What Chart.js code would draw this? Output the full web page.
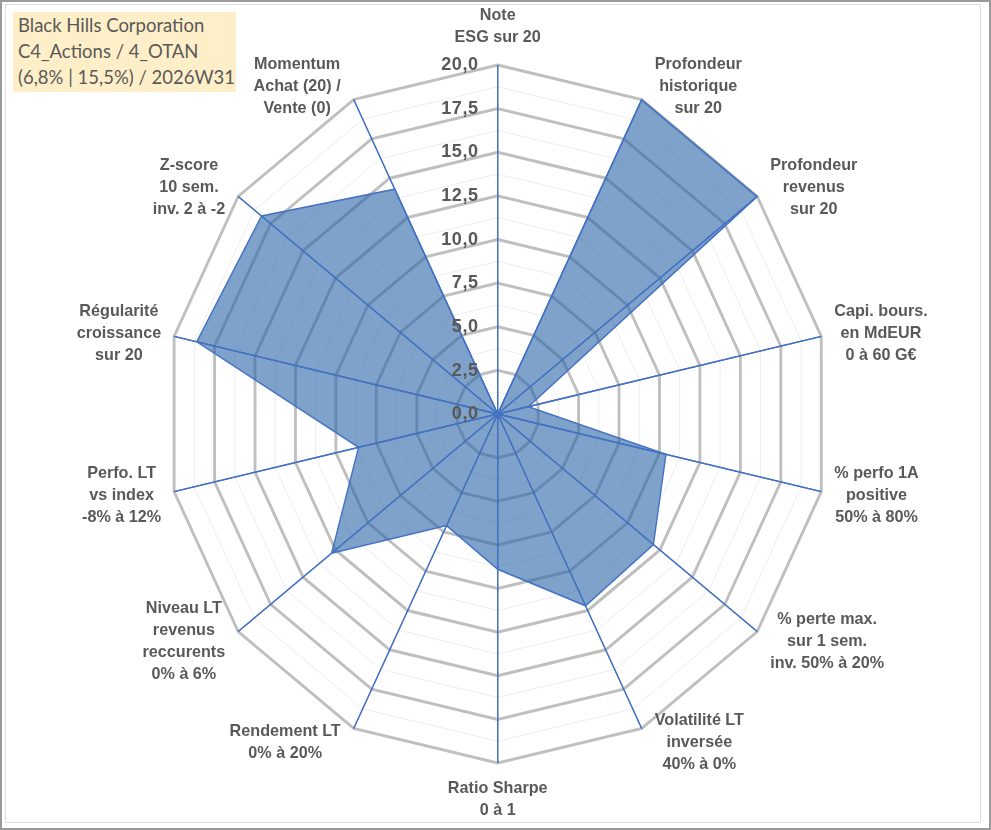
<!DOCTYPE html>
<html lang="fr">
<head>
<meta charset="utf-8">
<title>Black Hills Corporation</title>
<script src="https://cdn.jsdelivr.net/npm/chart.js@4.4.0/dist/chart.umd.min.js"></script>
<style>
  html, body { margin: 0; padding: 0; background: #fff; }
  #wrap { position: relative; width: 991px; height: 830px; overflow: hidden; }
  #chart { position: absolute; left: 0; top: 0; }
  #outer { position: absolute; left: 0; top: 0; width: 991px; height: 830px; box-sizing: border-box; border: 2px solid #9a9a9a; pointer-events: none; }
  #inner { position: absolute; left: 5px; top: 4px; width: 976px; height: 819px; box-sizing: border-box; border: 1px solid #dedede; pointer-events: none; }
  #title { position: absolute; left: 13px; top: 12px; width: 223px; height: 80px; background: #ffefc8;
           font-family: Lato, "Open Sans", sans-serif; font-size: 18.5px; line-height: 26px; color: #595959;
           padding: 0 0 0 5px; box-sizing: border-box; white-space: nowrap; }
</style>
</head>
<body>
<div id="wrap">
  <canvas id="chart" width="991" height="830"></canvas>
  <div id="outer"></div>
  <div id="inner"></div>
  <div id="title"></div>
</div>
<script>
// axes of the radar, clockwise from the top
const categories = [
  ['Note', 'ESG sur 20'],
  ['Profondeur', 'historique', 'sur 20'],
  ['Profondeur', 'revenus', 'sur 20'],
  ['Capi. bours.', 'en MdEUR', '0 à 60 G€'],
  ['% perfo 1A', 'positive', '50% à 80%'],
  ['% perte max.', 'sur 1 sem.', 'inv. 50% à 20%'],
  ['Volatilité LT', 'inversée', '40% à 0%'],
  ['Ratio Sharpe', '0 à 1'],
  ['Rendement LT', '0% à 20%'],
  ['Niveau LT', 'revenus', 'reccurents', '0% à 6%'],
  ['Perfo. LT', 'vs index', '-8% à 12%'],
  ['Régularité', 'croissance', 'sur 20'],
  ['Z-score', '10 sem.', 'inv. 2 à -2'],
  ['Momentum', 'Achat (20) /', 'Vente (0)']
];
const scores = [0, 20, 20, 1.9, 10.4, 12.0, 12.2, 8.9, 7.1, 12.8, 8.6, 18.6, 18.2, 14.3];
const tickValues = [0, 2.5, 5, 7.5, 10, 12.5, 15, 17.5, 20];
const titleLines = ['Black Hills Corporation', 'C4_Actions / 4_OTAN', '(6,8% | 15,5%) / 2026W31'];

document.getElementById('title').innerHTML = titleLines.map(t => '<div>' + t + '</div>').join('');

// the original picture is a bit squeezed horizontally
const K = 0.951;
const CX = 497.7 / K, CY = 414, R = 349;
const TEXT = '#595959';
const BLUE = '#4472C4';

const fmt = v => v.toFixed(1).replace('.', ',');

const radarText = {
  id: 'radarText',
  beforeDraw(chart) {
    chart.ctx.save();
    chart.ctx.scale(K, 1);
  },
  afterDatasetsDraw(chart) {
    // axis lines sit on top of the filled area
    const s = chart.scales.r, ctx = chart.ctx;
    ctx.save();
    ctx.strokeStyle = BLUE;
    ctx.lineWidth = 1.3;
    ctx.beginPath();
    for (let i = 0; i < categories.length; i++) {
      const p = s.getPointPosition(i, s.drawingArea);
      ctx.moveTo(s.xCenter, s.yCenter);
      ctx.lineTo(p.x, p.y);
    }
    ctx.stroke();
    ctx.restore();
  },
  afterDraw(chart) {
    const s = chart.scales.r, ctx = chart.ctx;
    ctx.save();
    ctx.fillStyle = TEXT;

    // value ticks, left of the vertical axis
    ctx.font = 'bold 19px "Liberation Sans", Arial, sans-serif';
    ctx.letterSpacing = '0.6px';
    ctx.textAlign = 'right';
    ctx.textBaseline = 'middle';
    tickValues.forEach(v => {
      ctx.fillText(fmt(v), s.xCenter - 20, s.yCenter - s.getDistanceFromCenterForValue(v));
    });

    // category labels
    ctx.letterSpacing = '0px';
    ctx.font = 'bold 17px "Liberation Sans", Arial, sans-serif';
    ctx.textAlign = 'center';
    const lh = 22, gap = 13 / K, n = categories.length;
    categories.forEach((lines, i) => {
      const a = i * 2 * Math.PI / n;
      const sn = Math.sin(a), cs = Math.cos(a);
      const v = s.getPointPosition(i, s.drawingArea);
      const w = Math.max(...lines.map(t => ctx.measureText(t).width));
      const h = lines.length * lh;
      let x = v.x, y;
      if (Math.abs(sn) < 0.01) {
        y = cs > 0 ? v.y - 17 - h / 2 : v.y + 14 + h / 2;
      } else {
        x = v.x + Math.sign(sn) * (gap + w / 2);
        y = v.y - 15 * cs;
      }
      lines.forEach((t, j) => ctx.fillText(t, x, y + (j - (lines.length - 1) / 2) * lh));
    });
    ctx.restore();
    ctx.restore();
  }
};

new Chart(document.getElementById('chart'), {
  type: 'radar',
  data: {
    labels: categories,
    datasets: [{
      data: scores,
      backgroundColor: 'rgba(42, 100, 168, 0.6)',
      borderColor: BLUE,
      borderWidth: 1.5,
      pointRadius: 0,
      fill: true
    }]
  },
  options: {
    responsive: false,
    animation: false,
    layout: { padding: 0 },
    plugins: { legend: { display: false }, tooltip: { enabled: false } },
    elements: { line: { tension: 0 } },
    scales: {
      r: {
        min: 0,
        max: 20,
        ticks: { stepSize: 1.25, display: false },
        pointLabels: { display: false },
        grid: {
          circular: false,
          color: c => (c.index % 2 === 0 ? '#bfbfbf' : '#ececec'),
          lineWidth: c => (c.index % 2 === 0 ? 3 : 1)
        },
        angleLines: { color: BLUE, lineWidth: 1.3 },
        afterFit(scale) {
          scale.xCenter = CX;
          scale.yCenter = CY;
          scale.drawingArea = R;
        }
      }
    }
  },
  plugins: [radarText]
});
</script>
</body>
</html>
